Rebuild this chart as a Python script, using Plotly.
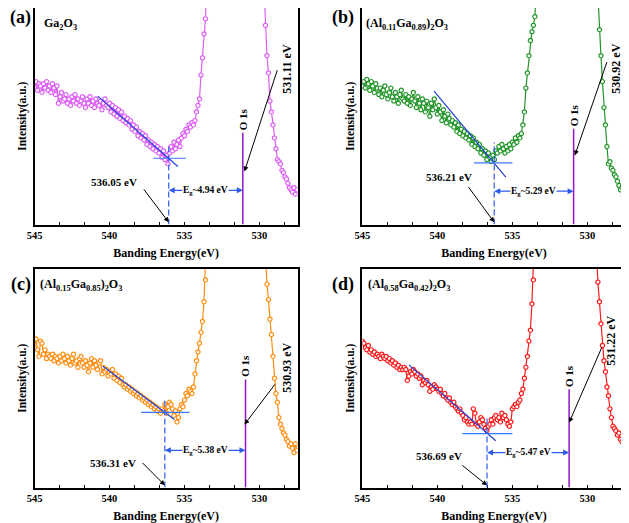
import plotly.graph_objects as go
from plotly.subplots import make_subplots

# === DATA ===
# intensities in arbitrary units (0-100 = visible window), 0.1 eV steps.
# *_left starts at 545.0 eV and runs down, *_tail ends at 527.5 eV;
# the O 1s peak between them runs off the top of the window.
step = 0.1

ga2o3_left = [63,
              66, 62, 65, 64, 61, 65, 63, 66, 62, 64,
              61, 65, 63, 60, 64, 56, 59, 61, 57, 58,
              60, 56, 58, 55, 59, 57, 60, 56, 58, 55,
              57, 59, 56, 54, 58, 56, 59, 55, 57, 54,
              58, 56, 55, 57, 53, 56, 58, 55, 54, 56,
              52, 55, 51, 54, 50, 53, 49, 52, 48, 50,
              47, 49, 46, 48, 44, 46, 43, 45, 41, 43,
              40, 42, 39, 41, 37, 39, 36, 38, 35, 37,
              34, 36, 33, 35, 31, 34, 30, 32, 28, 33,
              36, 34, 38, 35, 37, 39, 36, 40, 42, 41,
              44, 43, 46, 45, 47, 46, 48, 52, 55, 58,
              69, 77, 88, 95, 115, 140]
ga2o3_tail = [110, 92, 78, 70, 57, 52, 46, 40, 35, 30, 29, 28,
              25, 24, 22, 21, 19, 17, 16, 15, 17, 14, 16]

al11_left = [64,
             66, 63, 67, 65, 62, 66, 64, 61, 65, 63,
             60, 63, 59, 62, 64, 60, 58, 61, 63, 59,
             57, 61, 59, 56, 60, 62, 58, 57, 60, 56,
             59, 55, 58, 61, 57, 54, 59, 56, 53, 58,
             56, 52, 57, 54, 50, 56, 53, 58, 54, 51,
             55, 52, 48, 53, 50, 47, 51, 49, 46, 48,
             45, 47, 43, 46, 42, 44, 41, 43, 40, 42,
             39, 41, 37, 40, 36, 38, 35, 37, 33, 35,
             32, 34, 30, 33, 31, 29, 32, 30, 34, 33,
             36, 34, 37, 35, 33, 36, 34, 37, 35, 38,
             37, 40, 38, 41, 40, 42, 46, 52, 63, 70,
             78, 85, 89, 92, 96, 112, 140]
al11_tail = [120, 104, 90, 78, 66, 54, 46, 36, 28, 29,
             26, 25, 23, 22, 20, 18, 16, 17, 13, 12]

al15_left = [64,
             68, 63, 60, 67, 66, 61, 63, 59, 61, 60,
             59, 61, 58, 60, 59, 57, 60, 58, 61, 59,
             57, 60, 58, 56, 59, 61, 57, 58, 55, 59,
             60, 57, 55, 58, 56, 53, 57, 59, 55, 58,
             56, 54, 57, 58, 52, 55, 53, 54, 51, 53,
             52, 54, 50, 52, 49, 51, 48, 50, 47, 46,
             47, 45, 46, 44, 45, 43, 44, 42, 43, 41,
             42, 40, 41, 39, 40, 38, 39, 37, 38, 36,
             37, 35, 36, 34, 36, 35, 38, 34, 37, 39,
             38, 36, 33, 35, 30, 32, 36, 38, 37, 40,
             43, 42, 45, 44, 43, 46, 52, 58, 62, 66,
             71, 76, 85, 95, 110, 140]
al15_tail = [118, 102, 93, 86, 77, 70, 60, 50, 43, 39, 32, 29,
             27, 25, 24, 22, 21, 19, 20, 18, 16, 20, 17]

al58_left = [67,
             66, 64, 63, 65, 62, 63, 61, 62, 60, 61,
             60, 59, 61, 60, 59, 60, 58, 59, 57, 58,
             56, 57, 55, 56, 54, 55, 54, 55, 54, 49,
             51, 53, 52, 54, 53, 51, 52, 50, 51, 47,
             49, 48, 49, 47, 44, 46, 45, 47, 46, 45,
             44, 45, 43, 42, 43, 41, 40, 41, 39, 38,
             39, 37, 36, 35, 36, 34, 33, 31, 32, 30,
             29, 30, 29, 36, 34, 29, 28, 30, 32, 31,
             29, 27, 26, 28, 29, 31, 29, 32, 33, 31,
             32, 30, 34, 32, 33, 31, 29, 28, 30, 36,
             37, 38, 37, 39, 40, 43, 45, 50, 55, 60,
             67, 72, 84, 95, 115, 140]
al58_tail = [120, 103, 94, 85, 75, 65, 58, 53, 46, 42, 36,
             32, 28, 27, 26, 24, 25, 22, 21, 20, 19]

panel_tags = ["(a)", "(b)", "(c)", "(d)"]
sample_names = ["Ga<sub>2</sub>O<sub>3</sub>",
                "(Al<sub>0.11</sub>Ga<sub>0.89</sub>)<sub>2</sub>O<sub>3</sub>",
                "(Al<sub>0.15</sub>Ga<sub>0.85</sub>)<sub>2</sub>O<sub>3</sub>",
                "(Al<sub>0.58</sub>Ga<sub>0.42</sub>)<sub>2</sub>O<sub>3</sub>"]
left_sets = [ga2o3_left, al11_left, al15_left, al58_left]
tail_sets = [ga2o3_tail, al11_tail, al15_tail, al58_tail]

onset_ev = [536.05, 536.21, 536.31, 536.69]
o1s_ev = [531.11, 530.92, 530.93, 531.22]
gap_ev = ["4.94", "5.29", "5.38", "5.47"]

# linear fit of the leading edge and the baseline
fit_x = [(540.78, 535.44), (540.22, 535.44), (540.44, 535.67), (541.89, 536.11)]
fit_y = [(59.3, 26.8), (61.6, 21.9), (55.5, 31.1), (56.1, 21.4)]
base_x = [(537.07, 534.89), (537.56, 535.0), (537.89, 534.67), (538.33, 535.0)]
base_y = [30.6, 28.5, 34.4, 24.7]

# === STYLE ===
colors = ["#DD5EF5", "#23962A", "#FF8E12", "#FF1A1A"]
blue = "#2F5BEA"
purple = "#9414C8"
FONT = "Liberation Serif"

# annotation placement, in data units of each panel
onset_top = [36.8, 38, 41, 32]
o1s_top = [42.4, 44.2, 49.4, 45]
eg_y = [15.8, 15.4, 17.0, 16.0]
onset_lab = [(539.67, 19.5), (539.22, 21.9), (539.78, 11.2), (539.89, 14.5)]
onset_tail = [(537.78, 16.9), (538.0, 18.0), (537.89, 11.9), (538.44, 10.7)]
o1s_lab = [(528.22, 72), (528.11, 71.9), (528.18, 54.7), (528.44, 67.1)]
o1s_tail = [(528.78, 72), (528.67, 75.7), (528.89, 47.9), (529.0, 64.8)]
o1s_head = [(531.0, 24.5), (530.84, 31.9), (531.0, 28.8), (531.22, 29.7)]
o1s_name_y = [48.5, 50.3, 55.5, 51.1]

# pixel layout of the 629x523 screenshot; the page body adds an 8 px offset
PAD = 8
W, H = 629 - PAD, 523 - PAD
x_px = [(34.5, 297.7), (362.3, 625.7), (34.5, 297.7), (362.3, 625.7)]
y_px = [(8, 224.5), (8, 224.5), (269, 487.5), (269, 487.5)]
tag_px = [(20.5, 18), (343, 17), (20.5, 284), (343, 284)]
name_px = [(42, 24), (364, 24), (38, 285), (366, 285)]


def px_x(v):
    return min(1, max(0, (v - PAD) / W))


def px_y(v):
    return min(1, max(0, 1 - (v - PAD) / H))


fig = make_subplots(rows=2, cols=2)
cells = [(1, 1), (1, 2), (2, 1), (2, 2)]
suffix = ["", "2", "3", "4"]

shapes = []
annotations = []

for k in range(4):
    left = left_sets[k]
    tail = tail_sets[k]
    ex = [round(545.0 - step * i, 2) for i in range(len(left))]
    ex += [round(527.5 + step * (len(tail) - 1 - i), 2) for i in range(len(tail))]
    r, c = cells[k]
    fig.add_trace(go.Scatter(
        x=ex, y=left + tail, mode="lines+markers",
        line=dict(color=colors[k], width=1.2),
        marker=dict(symbol="circle", size=4.2, color="white",
                    line=dict(width=1.2, color=colors[k])),
        showlegend=False), row=r, col=c)

    xr = "x" + suffix[k]
    yr = "y" + suffix[k]

    # fit lines
    shapes.append(dict(type="line", xref=xr, yref=yr,
                       x0=fit_x[k][0], y0=fit_y[k][0], x1=fit_x[k][1], y1=fit_y[k][1],
                       line=dict(color="#2040D8", width=1.2)))
    shapes.append(dict(type="line", xref=xr, yref=yr,
                       x0=base_x[k][0], y0=base_y[k], x1=base_x[k][1], y1=base_y[k],
                       line=dict(color="#3C78FF", width=1.2)))
    shapes.append(dict(type="line", xref=xr, yref=yr,
                       x0=onset_ev[k], y0=0, x1=onset_ev[k], y1=onset_top[k],
                       line=dict(color=blue, width=1.2, dash="6px,3px")))
    shapes.append(dict(type="line", xref=xr, yref=yr,
                       x0=o1s_ev[k], y0=0, x1=o1s_ev[k], y1=o1s_top[k],
                       line=dict(color=purple, width=1.5)))

    # Eg double arrow
    mid = (onset_ev[k] + o1s_ev[k]) / 2
    for head in (onset_ev[k], o1s_ev[k]):
        annotations.append(dict(xref=xr, yref=yr, axref=xr, ayref=yr,
                                x=head, y=eg_y[k], ax=mid, ay=eg_y[k], text="",
                                showarrow=True, arrowhead=2, arrowsize=1,
                                arrowwidth=1.2, arrowcolor=blue))
    annotations.append(dict(xref=xr, yref=yr, x=mid, y=eg_y[k],
                            text="<b>E<sub>g</sub>~" + gap_ev[k] + " eV</b>",
                            showarrow=False, bgcolor="white", borderpad=0,
                            font=dict(family=FONT, size=9.5, color="black")))

    # onset label + arrow
    annotations.append(dict(xref=xr, yref=yr, x=onset_lab[k][0], y=onset_lab[k][1],
                            text="<b>%.2f eV</b>" % onset_ev[k], showarrow=False,
                            font=dict(family=FONT, size=11, color="black")))
    annotations.append(dict(xref=xr, yref=yr, axref=xr, ayref=yr,
                            x=onset_ev[k], y=1, ax=onset_tail[k][0], ay=onset_tail[k][1],
                            text="", showarrow=True, arrowhead=2, arrowsize=1,
                            arrowwidth=1, arrowcolor="black"))

    # O 1s position label + arrow
    annotations.append(dict(xref=xr, yref=yr, x=o1s_lab[k][0], y=o1s_lab[k][1],
                            text="<b>%.2f eV</b>" % o1s_ev[k], showarrow=False,
                            textangle=-90,
                            font=dict(family=FONT, size=12, color="black")))
    annotations.append(dict(xref=xr, yref=yr, axref=xr, ayref=yr,
                            x=o1s_head[k][0], y=o1s_head[k][1],
                            ax=o1s_tail[k][0], ay=o1s_tail[k][1],
                            text="", showarrow=True, arrowhead=2, arrowsize=1,
                            arrowwidth=1, arrowcolor="black"))
    annotations.append(dict(xref=xr, yref=yr, x=o1s_ev[k], y=o1s_name_y[k],
                            text="<b>O 1s</b>", showarrow=False, textangle=-90,
                            font=dict(family=FONT, size=11, color="black")))

    # panel tag and sample name
    annotations.append(dict(xref="paper", yref="paper",
                            x=px_x(tag_px[k][0]), y=px_y(tag_px[k][1]),
                            xanchor="center", yanchor="middle",
                            text="<b>" + panel_tags[k] + "</b>", showarrow=False,
                            font=dict(family=FONT, size=18, color="black")))
    annotations.append(dict(xref="paper", yref="paper",
                            x=px_x(name_px[k][0]), y=px_y(name_px[k][1]),
                            xanchor="left", yanchor="middle",
                            text="<b>" + sample_names[k] + "</b>",
                            showarrow=False,
                            font=dict(family=FONT, size=12, color="black")))

    fig.update_xaxes(
        domain=[px_x(x_px[k][0]), px_x(x_px[k][1])], automargin=False,
        range=[545, 527.45], tickmode="linear", tick0=545, dtick=5,
        ticks="inside", ticklen=3, tickwidth=1, tickcolor="black",
        minor=dict(tick0=545, dtick=5 / 3, ticks="inside", ticklen=3,
                   tickwidth=1, tickcolor="black"),
        showline=True, mirror=True, linecolor="black", linewidth=1.5,
        showgrid=False, zeroline=False,
        tickfont=dict(family=FONT, size=10.5, color="black", weight="bold"),
        title=dict(text="Banding Energy(eV)", standoff=9,
                   font=dict(family=FONT, size=12, color="black", weight="bold")),
        row=r, col=c)
    fig.update_yaxes(
        domain=[px_y(y_px[k][1]), px_y(y_px[k][0])], automargin=False,
        range=[0, 100], showticklabels=False, ticks="",
        showline=True, mirror=True, linecolor="black", linewidth=1.5,
        showgrid=False, zeroline=False,
        title=dict(text="Intensity(a.u.)", standoff=4,
                   font=dict(family=FONT, size=11.5, color="black", weight="bold")),
        row=r, col=c)

fig.update_layout(
    width=W, height=H,
    margin=dict(l=0, r=0, t=0, b=0),
    paper_bgcolor="white", plot_bgcolor="white",
    showlegend=False,
    shapes=shapes, annotations=annotations,
)

fig.write_html("out.html")
